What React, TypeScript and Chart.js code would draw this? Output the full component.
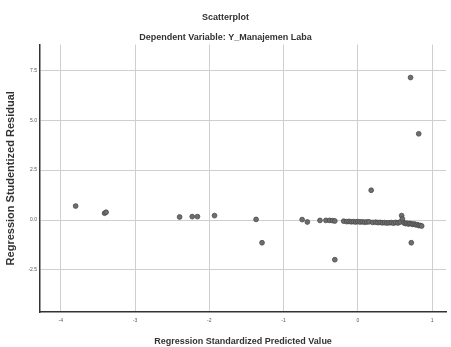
import React, { useEffect, useRef } from "react";
import { Chart, registerables } from "chart.js";

Chart.register(...registerables);

const predicted: number[] = [
  -3.8, -3.41, -3.39, -2.4, -2.23, -2.16, -1.93, -1.37, -1.29,
  -0.75, -0.68, -0.51, -0.43, -0.38, -0.34, -0.31, -0.31, 0.18, 0.71, 0.82, 0.72, 0.59,
  -0.19, -0.15, -0.12, -0.09, -0.06, -0.03, 0.0, 0.03, 0.06, 0.09, 0.12, 0.15, 0.2, 0.24,
  0.27, 0.3, 0.33, 0.36, 0.39, 0.42, 0.45, 0.48, 0.51, 0.54, 0.57, 0.6, 0.62, 0.64, 0.66,
  0.68, 0.7, 0.72, 0.74, 0.76, 0.78, 0.8, 0.82, 0.84, 0.86,
];
const residual: number[] = [
  0.7, 0.34, 0.39, 0.15, 0.17, 0.17, 0.22, 0.03, -1.14,
  0.02, -0.1, -0.02, -0.02, -0.02, -0.03, -0.05, -1.99, 1.49, 7.14, 4.32, -1.14, 0.22,
  -0.06, -0.08, -0.07, -0.09, -0.08, -0.1, -0.08, -0.1, -0.09, -0.11, -0.1, -0.09, -0.12, -0.11,
  -0.13, -0.12, -0.14, -0.13, -0.15, -0.14, -0.13, -0.16, -0.12, -0.15, -0.1, 0.05, -0.14, -0.18, -0.16,
  -0.2, -0.17, -0.19, -0.22, -0.2, -0.24, -0.23, -0.28, -0.27, -0.3,
];
const xTicks: number[] = [-4, -3, -2, -1, 0, 1];
const yTicks: number[] = [-2.5, 0, 2.5, 5, 7.5];

const chartTitle = "Scatterplot";
const chartSubtitle = "Dependent Variable: Y_Manajemen Laba";
const xTitle = "Regression Standardized Predicted Value";
const yTitle = "Regression Studentized Residual";

const FONT = "'Liberation Sans', Arial, sans-serif";

export default function App() {
  const ref = useRef<HTMLCanvasElement | null>(null);
  useEffect(() => {
    if (!ref.current) return;
    const points = predicted.map((x, i) => ({ x, y: residual[i] }));
    const chart = new Chart(ref.current, {
      type: "scatter",
      data: {
        datasets: [
          {
            data: points,
            pointRadius: 2.4,
            pointBackgroundColor: "#6e6e6e",
            pointBorderColor: "#4a4a4a",
            pointBorderWidth: 0.8,
          },
        ],
      },
      options: {
        animation: false,
        responsive: false,
        layout: { padding: { left: 0, right: 0, top: 0, bottom: 0 } },
        plugins: {
          legend: { display: false },
          tooltip: { enabled: false },
          title: {
            display: true,
            text: chartTitle,
            color: "#333",
            font: { family: FONT, size: 9, weight: "bold" },
            padding: { top: 12, bottom: 4 },
          },
          subtitle: {
            display: true,
            text: chartSubtitle,
            color: "#333",
            font: { family: FONT, size: 9, weight: "bold" },
            padding: { top: 5, bottom: 2 },
          },
        },
        scales: {
          x: {
            type: "linear",
            min: -4.28,
            max: 1.19,
            afterBuildTicks: (s: any) => {
              s.ticks = xTicks.map((v) => ({ value: v }));
            },
            afterFit: (s: any) => {
              s.height = 35;
            },
            grid: {
              color: "#cfcfcf",
              lineWidth: 1,
              drawTicks: false,
            },
            border: { color: "#333", width: 1.5 },
            ticks: {
              color: "#555",
              font: { family: FONT, size: 5 },
              padding: 6,
              callback: (v: any) => String(v),
            },
            title: {
              display: true,
              text: xTitle,
              color: "#333",
              font: { family: FONT, size: 9, weight: "bold" },
              padding: { top: 8, bottom: 0 },
            },
          },
          y: {
            type: "linear",
            min: -4.61,
            max: 8.79,
            afterBuildTicks: (s: any) => {
              s.ticks = yTicks.map((v) => ({ value: v }));
            },
            afterFit: (s: any) => {
              s.width = 40;
            },
            grid: {
              color: "#cfcfcf",
              lineWidth: 1,
              drawTicks: false,
            },
            border: { color: "#333", width: 1.5 },
            ticks: {
              color: "#555",
              font: { family: FONT, size: 5 },
              padding: 3,
              callback: (v: any) => Number(v).toFixed(1),
            },
            title: {
              display: true,
              text: yTitle,
              color: "#333",
              font: { family: FONT, size: 11, weight: "bold" },
              padding: { top: 4, bottom: 12 },
            },
          },
        },
      },
    });
    return () => chart.destroy();
  }, []);
  return (
    <div style={{ position: "fixed", left: 0, top: 0, width: 451, height: 347, background: "#fff" }}>
      <canvas ref={ref} width={451} height={347} style={{ display: "block" }} />
    </div>
  );
}
